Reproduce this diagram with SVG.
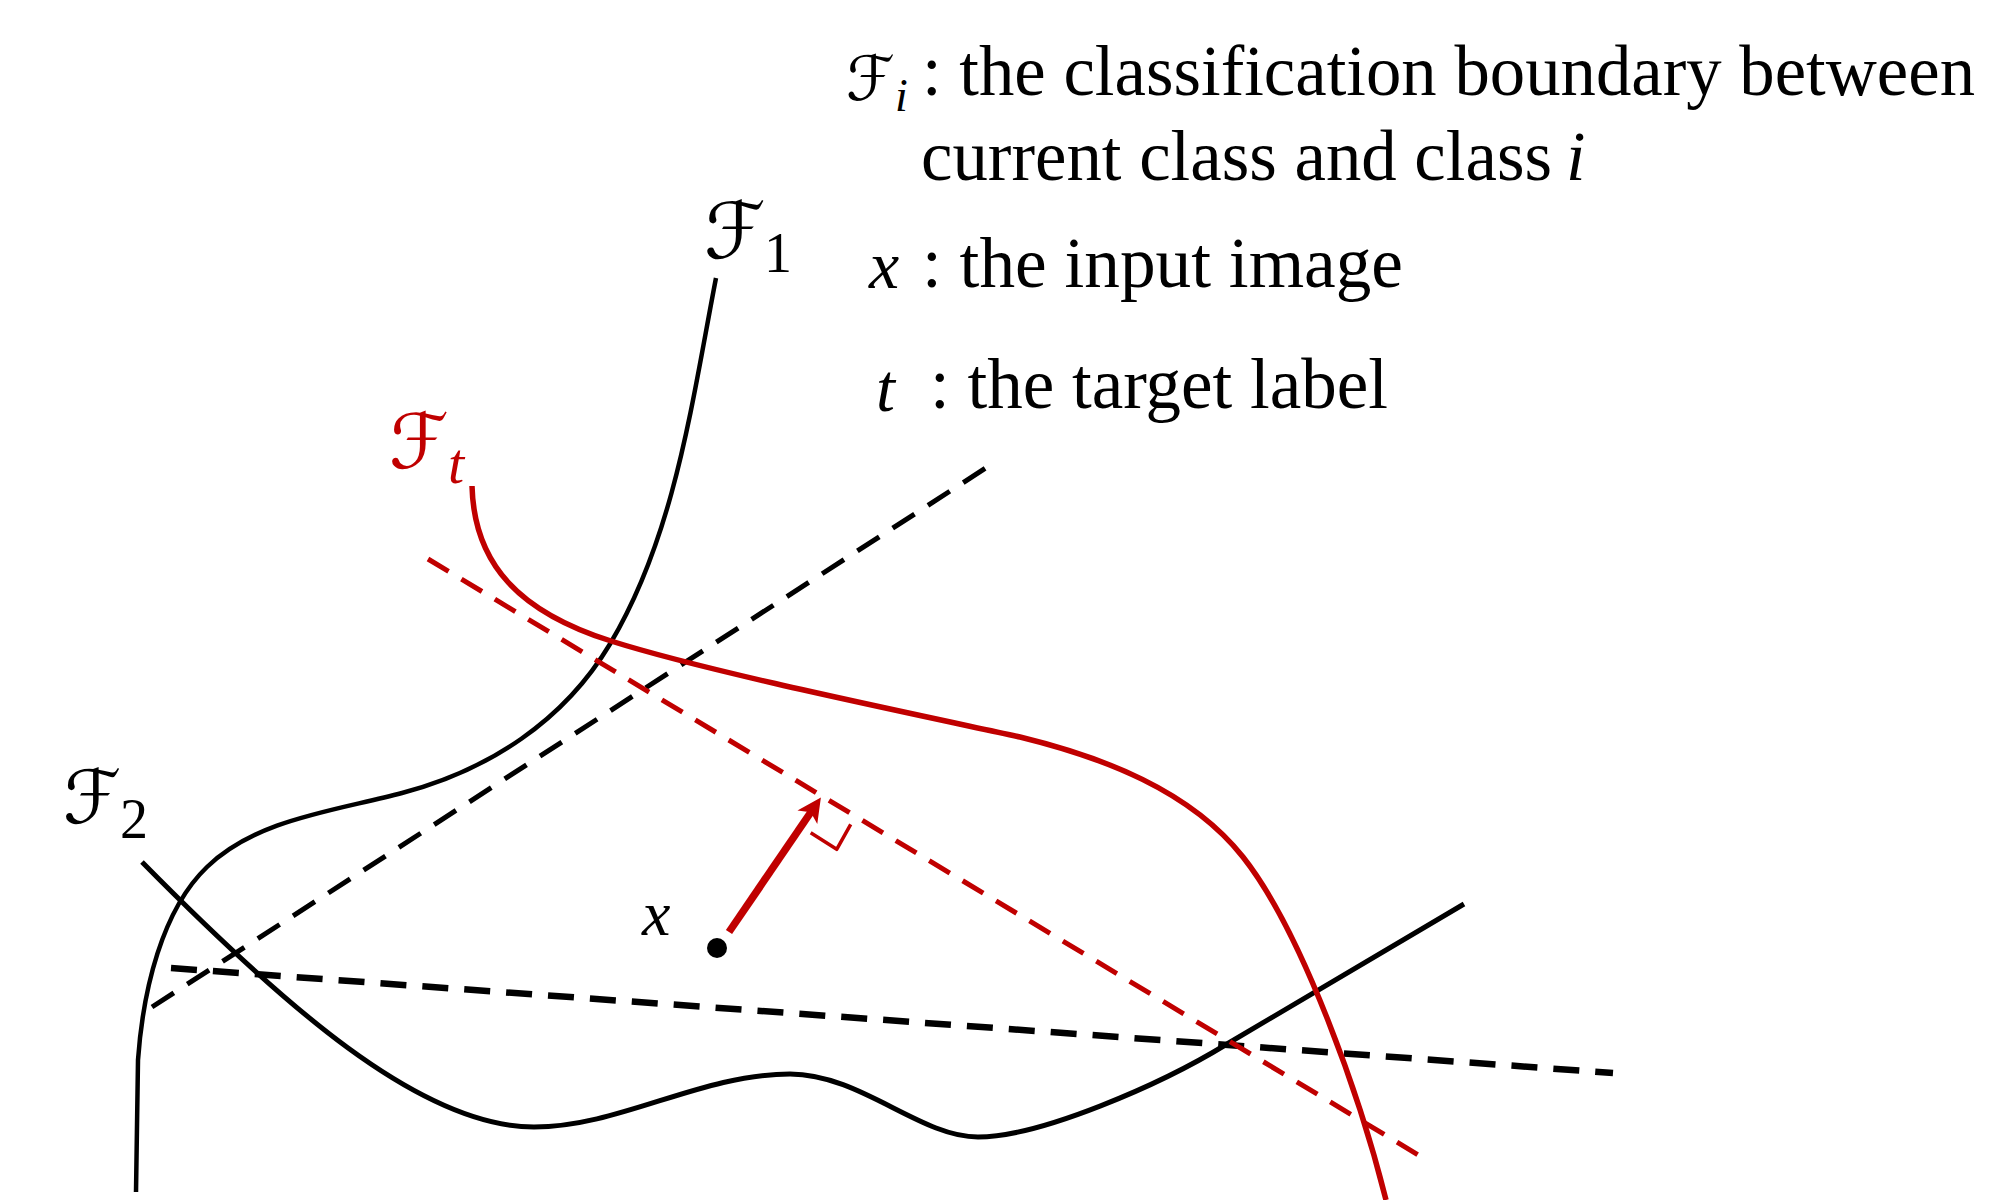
<svg xmlns="http://www.w3.org/2000/svg" width="1992" height="1200" viewBox="0 0 1992 1200">
<defs>
<style>
.txt{font-family:"Liberation Serif","Times New Roman",serif;fill:#000}
.it{font-family:"Liberation Serif","Times New Roman",serif;font-style:italic}
.scr{font-family:"DejaVu Serif","DejaVu Sans",serif;font-style:normal}
.sub{font-family:"Liberation Serif","Times New Roman",serif}
.blk{fill:none;stroke:#000;stroke-linecap:butt;stroke-linejoin:round}
.red{fill:none;stroke:#C00000;stroke-linecap:butt;stroke-linejoin:round}
.dash{stroke-dasharray:26 16}
.rdash{stroke-dasharray:24 15}
</style>
<marker id="arrowhead" markerUnits="userSpaceOnUse" markerWidth="44" markerHeight="44" viewBox="-22 -22 44 44" refX="0" refY="0" orient="auto">
<path d="M-10,-12 L14,0 L-10,12 L-4,0 Z" fill="#C00000"/>
</marker>
</defs>
<rect width="1992" height="1200" fill="#fff"/>

<g id="legend">
<text x="846" y="100"><tspan class="scr" font-size="62">ℱ</tspan><tspan class="it" x="895" y="111" font-size="46">i</tspan></text>
<text class="txt" x="922" y="95" font-size="71" textLength="1053" lengthAdjust="spacingAndGlyphs">: the classification boundary between</text>
<text x="921" y="180"><tspan class="txt" font-size="71" textLength="631" lengthAdjust="spacingAndGlyphs">current class and class</tspan><tspan class="it" x="1566" y="180" font-size="70">i</tspan></text>
<text class="it" x="869" y="288" font-size="68">x</text>
<text class="txt" x="922" y="287" font-size="71" textLength="481" lengthAdjust="spacingAndGlyphs">: the input image</text>
<text class="it" x="876" y="411" font-size="68">t</text>
<text class="txt" x="930" y="408" font-size="71" textLength="458" lengthAdjust="spacingAndGlyphs">: the target label</text>
</g>

<g id="boundary-F1">
<path class="blk dash" d="M152,1007 L995,462" stroke-width="5"/>
<path class="blk" d="M716,278 C692,402 675,535 610,644 C564,721 489,770 402,793 C334,811 257,819 207,867 C162,910 143,990 138,1060 L136,1192" stroke-width="4.5"/>
<text x="704" y="258"><tspan class="scr" font-size="78">ℱ</tspan><tspan class="sub" x="764" y="272" font-size="56">1</tspan></text>
</g>

<g id="boundary-F2">
<path class="blk dash" d="M171,968 L1613,1073" stroke-width="6.5"/>
<path class="blk" d="M142,862 C282,1004 420,1127 534,1127 C620,1127 700,1074 790,1074 C860,1074 920,1137 978,1137 C1040,1137 1160,1085 1227,1044 L1464,904" stroke-width="5"/>
<text x="63" y="823"><tspan class="scr" font-size="74">ℱ</tspan><tspan class="sub" x="120" y="838" font-size="56">2</tspan></text>
</g>

<g id="boundary-Ft">
<path class="red rdash" d="M428,559 L1425,1159" stroke-width="5"/>
<path class="red" d="M472,486 C474,565 520,612 611,641 C706,671 890,709 1020,737 C1102,757 1190,790 1243,857 C1303,933 1361,1100 1386,1200" stroke-width="5.5"/>
<text x="389" y="468" fill="#C00000"><tspan class="scr" font-size="76">ℱ</tspan><tspan class="it" x="448" y="483" font-size="58">t</tspan></text>
</g>

<g id="point-x">
<circle cx="717" cy="948" r="10" fill="#000"/>
<text class="it" x="642" y="935" font-size="64">x</text>
</g>

<g id="connectors">
<path class="red" d="M729,932 L813,809" stroke-width="7.5" marker-end="url(#arrowhead)"/>
<path class="red" d="M810.7,832.7 L836.7,849.3 L850.7,824.3" stroke-width="3.5"/>
</g>
</svg>
